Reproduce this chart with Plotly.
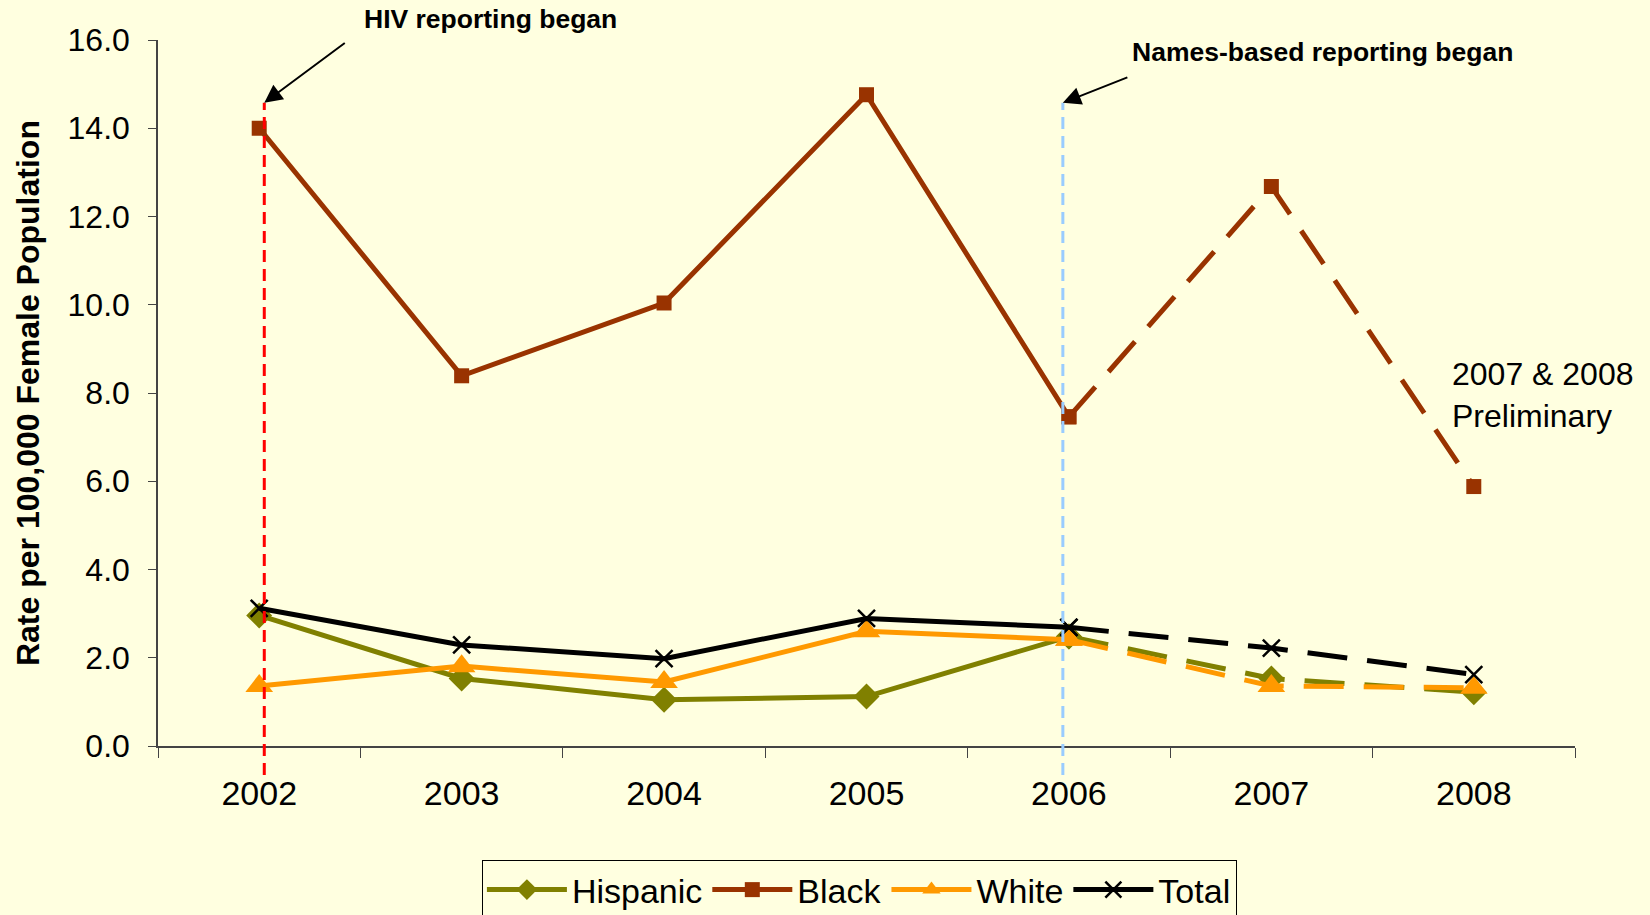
import plotly.graph_objects as go

# ---- data ----
years = ["2002", "2003", "2004", "2005", "2006", "2007", "2008"]
hispanic = [2.96, 1.53, 1.05, 1.12, 2.48, 1.53, 1.22]
black = [14.0, 8.39, 10.04, 14.76, 7.46, 12.68, 5.88]
white = [1.36, 1.81, 1.45, 2.60, 2.41, 1.36, 1.32]
total = [3.12, 2.29, 1.98, 2.89, 2.69, 2.22, 1.62]
series_names = ["Hispanic", "Black", "White", "Total"]
split_index = 4  # 2006: solid before, dashed (preliminary) after

# ---- styles ----
BG = "#FFFFE0"
FONT = "Liberation Sans, Arial, sans-serif"
styles = {
    "Hispanic": dict(color="#808000", symbol="diamond", size=20),
    "Black": dict(color="#993300", symbol="square", size=15),
    "White": dict(color="#FF9900", symbol="triangle-up", size=24),
    "Total": dict(color="#000000", symbol="x-thin", size=17),
}
values = {"Hispanic": hispanic, "Black": black, "White": white, "Total": total}

fig = go.Figure()
for name in series_names:
    st = styles[name]
    vals = values[name]
    marker = dict(symbol=st["symbol"], size=st["size"], color=st["color"],
                  line=dict(color=st["color"], width=2.5 if name == "Total" else 0))
    fig.add_trace(go.Scatter(
        x=years[:split_index + 1], y=vals[:split_index + 1], mode="lines+markers",
        name=name, line=dict(color=st["color"], width=5), marker=marker,
        legendgroup=name, showlegend=True))
    fig.add_trace(go.Scatter(
        x=years[split_index:], y=vals[split_index:], mode="lines+markers",
        name=name, line=dict(color=st["color"], width=5, dash="40px,20px"),
        marker=marker, legendgroup=name, showlegend=False))

# reference lines (category index positions)
hiv_x = 0.025
names_x = 3.97
line_top = 0.911
line_bottom = -0.041
fig.add_shape(type="line", xref="x", yref="paper", x0=hiv_x, x1=hiv_x,
              y0=line_bottom, y1=line_top,
              line=dict(color="#FF0000", width=3, dash="12px,7px"))
fig.add_shape(type="line", xref="x", yref="paper", x0=names_x, x1=names_x,
              y0=line_bottom, y1=line_top,
              line=dict(color="#99CCFF", width=3, dash="12px,7px"))

# arrows
fig.add_annotation(x=hiv_x, y=line_top, xref="x", yref="paper", text="",
                   showarrow=True, arrowhead=2, arrowsize=1.8, arrowwidth=2,
                   arrowcolor="black", ax=82, ay=-61, standoff=0)
fig.add_annotation(x=names_x, y=line_top, xref="x", yref="paper", text="",
                   showarrow=True, arrowhead=2, arrowsize=1.8, arrowwidth=2,
                   arrowcolor="black", ax=66, ay=-26, standoff=0)

# texts
fig.add_annotation(x=0.2343, y=1.0297, xref="paper", yref="paper",
                   text="<b>HIV reporting began</b>", showarrow=False,
                   font=dict(size=26.5, color="black", family=FONT),
                   xanchor="center", yanchor="middle")
fig.add_annotation(x=0.8215, y=0.983, xref="paper", yref="paper",
                   text="<b>Names-based reporting began</b>", showarrow=False,
                   font=dict(size=26.5, color="black", family=FONT),
                   xanchor="center", yanchor="middle")
fig.add_annotation(x=0.912, y=0.497, xref="paper", yref="paper",
                   text="2007 & 2008<br>Preliminary", showarrow=False, align="left",
                   font=dict(size=32, color="black", family=FONT),
                   xanchor="left", yanchor="middle")
fig.add_annotation(x=-0.0917, y=0.5, xref="paper", yref="paper",
                   text="<b>Rate per 100,000 Female Population</b>", showarrow=False,
                   textangle=-90, font=dict(size=32, color="black", family=FONT),
                   xanchor="center", yanchor="middle")

fig.update_layout(
    width=1650, height=915,
    paper_bgcolor=BG, plot_bgcolor=BG,
    margin=dict(l=158, r=75, t=40, b=169, autoexpand=False),
    font=dict(family=FONT, color="black"),
    legend=dict(orientation="h", x=0.495, y=-0.1615, xanchor="center", yanchor="top",
                bgcolor=BG, bordercolor="black", borderwidth=1,
                font=dict(size=34, family=FONT), itemwidth=80),
    xaxis=dict(type="category", range=[-0.5, 6.5], showline=True, linecolor="#444",
               linewidth=1.5, ticks="outside", tickson="boundaries", ticklen=10,
               tickcolor="#444", showgrid=False, zeroline=False,
               tickfont=dict(size=34), ticklabelstandoff=16),
    yaxis=dict(range=[0, 16], dtick=2, tickformat=".1f", showline=True,
               linecolor="#444", linewidth=1.5, ticks="outside", ticklen=8,
               tickcolor="#444", showgrid=False, zeroline=False,
               tickfont=dict(size=32), ticklabelstandoff=12),
)

fig.write_html("out.html", config={"displayModeBar": False},
               post_script="document.body.style.margin='0';"
                           "document.body.style.overflow='hidden';")
